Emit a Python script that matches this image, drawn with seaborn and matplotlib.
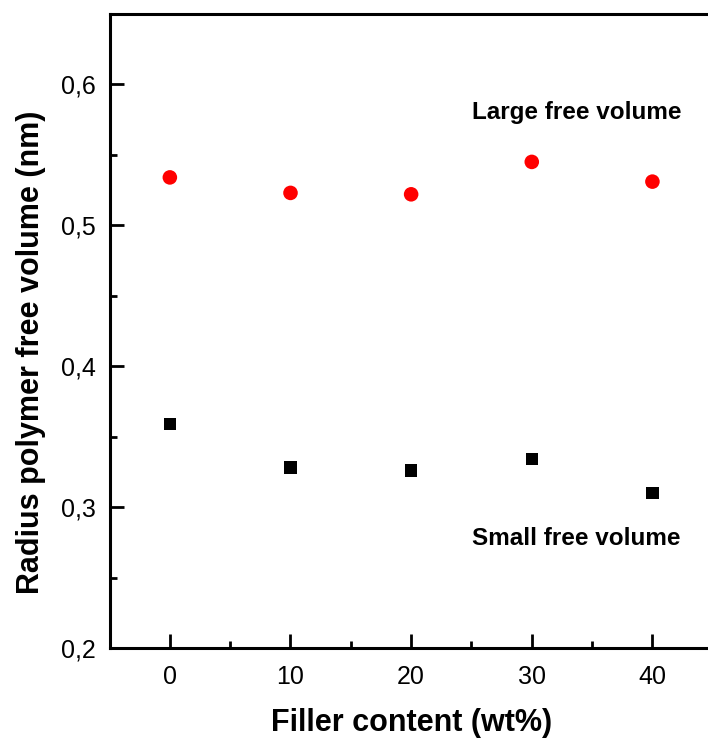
import numpy as np
import pandas as pd
import matplotlib
matplotlib.use('Agg')
import matplotlib.pyplot as plt
import seaborn as sns
from matplotlib.ticker import MultipleLocator, FuncFormatter

sns.set_theme(style='white')
plt.rcParams['font.family'] = ['Liberation Sans', 'DejaVu Sans']
plt.rcParams['text.color'] = 'black'
plt.rcParams['axes.labelcolor'] = 'black'

# data
filler = [0, 10, 20, 30, 40]
large_fv = [0.534, 0.523, 0.522, 0.545, 0.531]
small_fv = [0.359, 0.328, 0.326, 0.334, 0.310]

df = pd.DataFrame({
    'filler': filler * 2,
    'radius': large_fv + small_fv,
    'kind': ['Large free volume'] * 5 + ['Small free volume'] * 5,
})

fig = plt.figure(figsize=(7.08, 7.43), dpi=100)
ax = fig.add_axes([0.1547, 0.1279, 0.852, 0.8533])

sns.scatterplot(data=df[df['kind'] == 'Large free volume'], x='filler', y='radius',
                color='#ff0000', marker='o', s=110, edgecolor='none', ax=ax, legend=False)
sns.scatterplot(data=df[df['kind'] == 'Small free volume'], x='filler', y='radius',
                color='black', marker='s', s=80, edgecolor='none', ax=ax, legend=False)

ax.set_xlim(-5, 45)
ax.set_ylim(0.2, 0.65)

ax.xaxis.set_major_locator(MultipleLocator(10))
ax.xaxis.set_minor_locator(MultipleLocator(5))
ax.yaxis.set_major_locator(MultipleLocator(0.1))
ax.yaxis.set_minor_locator(MultipleLocator(0.05))
ax.yaxis.set_major_formatter(FuncFormatter(lambda v, p: f'{v:.1f}'.replace('.', ',')))
ax.xaxis.set_major_formatter(FuncFormatter(lambda v, p: f'{v:.0f}'))

ax.tick_params(which='both', direction='in', width=2, colors='black',
               bottom=True, left=True, top=False, right=False, labelsize=18)
ax.tick_params(axis='x', which='major', length=10, pad=12)
ax.tick_params(axis='y', which='major', length=10, pad=10)
ax.tick_params(which='minor', length=5)

for side in ['left', 'bottom', 'top']:
    ax.spines[side].set_linewidth(2.2)
    ax.spines[side].set_color('black')
ax.spines['right'].set_visible(False)

ax.set_xlabel('Filler content (wt%)', fontsize=22, fontweight='bold')
ax.set_ylabel('Radius polymer free volume (nm)', fontsize=22, fontweight='bold')
ax.xaxis.set_label_coords(0.5, -0.094)
ax.yaxis.set_label_coords(-0.105, 0.467)

ax.text(33.7, 0.58, 'Large free volume', fontsize=17.5, fontweight='bold', ha='center', va='center')
ax.text(33.7, 0.278, 'Small free volume', fontsize=17.5, fontweight='bold', ha='center', va='center')

fig.savefig('out.png', dpi=100)
